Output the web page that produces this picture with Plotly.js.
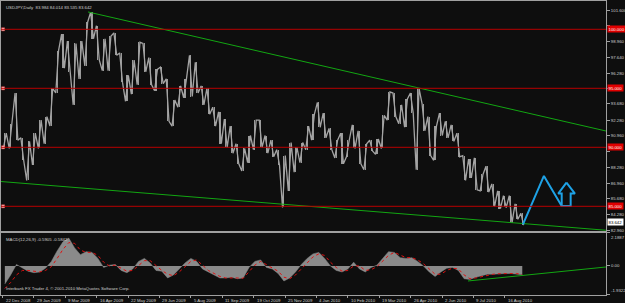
<!DOCTYPE html>
<html><head><meta charset="utf-8">
<script src="https://cdn.plot.ly/plotly-3.0.1.min.js"></script>
<style>html,body{margin:0;padding:0;background:#0e0e0e;} #chart{width:625px;height:303px;}</style>
</head><body><div id="chart"></div>
<script>
// ---- data (weekly chunks of 5 daily bars, starting 22 Dec 2008) ----
const weekHigh = [91.2,92.0,94.6,90.8,90.5,91.2,92.3,92.6,95.0,98.2,
  99.6,99.0,98.8,99.0,100.6,101.45,100.3,99.2,99.4,99.7,
  98.0,96.1,97.4,98.9,98.8,97.6,96.6,96.8,95.8,94.0,
  95.2,95.8,97.8,97.2,95.2,95.0,93.4,93.0,92.4,91.8,
  90.3,89.9,91.0,92.3,92.3,91.0,90.6,89.8,89.3,90.4,
  90.0,90.4,91.8,92.8,93.8,92.9,91.6,90.6,91.2,90.6,
  91.9,91.4,90.3,90.6,90.7,92.7,94.7,94.6,93.6,94.1,
  94.6,95.0,93.7,92.6,91.8,92.9,92.2,91.9,91.2,89.3,
  89.0,89.1,87.7,88.4,86.9,86.3,85.9,85.9,85.2,84.4];
const weekLow = [89.9,89.9,90.6,88.9,87.2,88.5,89.9,90.3,91.8,94.6,
  96.7,96.4,93.6,95.8,96.9,99.2,97.4,96.5,96.5,97.8,
  95.5,93.9,94.5,95.3,96.4,95.3,94.8,95.4,92.2,91.8,
  93.4,94.2,94.3,94.6,93.6,92.8,91.8,90.3,90.0,89.5,
  88.6,88.0,88.7,89.8,90.0,89.5,89.2,88.5,84.9,86.3,
  87.9,88.7,89.8,90.6,91.7,90.8,89.8,89.1,88.6,89.2,
  89.9,88.6,88.1,89.7,89.4,89.9,92.3,92.6,92.0,91.7,
  92.9,88.1,91.4,89.3,88.9,91.0,90.8,90.5,89.2,87.2,
  87.4,86.4,86.3,86.2,85.0,84.8,84.9,83.6,83.9,83.4];
const macdHist = [-1.2,-0.6,0.1,-0.1,-0.35,-0.45,-0.4,-0.15,0.3,1.0,
  1.6,1.85,1.2,0.75,0.95,0.9,0.5,-0.1,0.05,0.1,
  -0.3,-0.45,-0.2,0.3,0.5,0.2,-0.3,-0.35,-0.8,-0.6,
  -0.2,0.2,0.5,0.3,-0.2,-0.4,-0.6,-0.8,-0.8,-0.75,
  -0.85,-0.8,-0.1,0.3,0.4,-0.1,-0.2,-0.5,-1.0,-0.8,
  -0.4,0.1,0.5,0.8,0.9,0.5,0.0,-0.3,-0.4,-0.2,
  0.25,-0.2,-0.4,-0.1,0.05,0.5,0.95,0.9,0.55,0.5,
  0.55,0.3,0.0,-0.4,-0.7,-0.4,-0.15,-0.1,-0.3,-0.85,
  -0.9,-0.75,-0.65,-0.55,-0.55,-0.5,-0.5,-0.5,-0.55,-0.59];
const macdSignal = [-1.5,-1.1,-0.6,-0.3,-0.3,-0.35,-0.4,-0.3,-0.05,0.5,
  1.1,1.55,1.5,1.05,0.9,0.9,0.7,0.25,0.0,0.05,
  -0.15,-0.35,-0.3,0.05,0.35,0.35,0.0,-0.3,-0.55,-0.65,
  -0.4,-0.05,0.3,0.4,0.05,-0.3,-0.5,-0.7,-0.8,-0.78,
  -0.8,-0.82,-0.4,0.05,0.3,0.1,-0.15,-0.35,-0.75,-0.85,
  -0.6,-0.2,0.25,0.6,0.8,0.7,0.25,-0.1,-0.35,-0.3,
  0.0,0.0,-0.3,-0.25,-0.05,0.3,0.7,0.9,0.7,0.55,
  0.55,0.4,0.15,-0.2,-0.55,-0.55,-0.3,-0.15,-0.2,-0.6,
  -0.85,-0.8,-0.7,-0.6,-0.55,-0.52,-0.5,-0.5,-0.5,-0.58];
const dateLabels = ["22 Dec 2008","29 Jan 2009","9 Mar 2009","16 Apr 2009","22 May 2009","29 Jun 2009","5 Aug 2009","11 Sep 2009","19 Oct 2009","25 Nov 2009","4 Jan 2010","10 Feb 2010","19 Mar 2010","26 Apr 2010","2 Jun 2010","9 Jul 2010","16 Aug 2010"];
const dateLabelBars = [0,27,54,81,108,135,162,189,216,243,270,297,324,351,378,405,432];
const priceTicks = [101.6,100.28,98.96,97.64,96.28,94.96,93.68,92.28,90.96,89.68,88.28,86.96,85.68,84.28,82.96];
const levels = [100,95,90,85];
const lastPrice = 83.642;
const titleText = "USDJPY,Daily  83.984 84.014 83.535 83.642";
const macdText = "MACD(12,26,9) -0.5905 -0.5842";
const macdTicks = [2.1887, 0, -1.9322];
const macdTickText = ["2.1887","0.00","-1.9322"];
// drawn objects (bar index, price)
const upperTrendBars = [73.5, 519], upperTrendPrices = [101.47, 91.38];
const lowerTrendBars = [-1.3, 519], lowerTrendPrices = [87.10, 82.97];
const macdTrendBars = [400.3, 519], macdTrendValues = [-1.0, -0.07];
const zigzagBars = [447.6, 465.6, 480.9], zigzagPrices = [83.47, 87.57, 85.03];
const arrowBars = [485.0, 492.3, 488.6, 488.6, 480.9, 480.9, 477.9, 485.0];
const arrowPrices = [87.00, 86.08, 86.08, 85.03, 85.03, 86.08, 86.08, 87.00];
const BARS_PER_WEEK = 5;

// ---- build traces ----
const px = [], py = [];
for (let k = 0; k < weekHigh.length; k++) {
  const mid = (weekHigh[k] + weekLow[k]) / 2;
  const nextMid = k + 1 < weekHigh.length ? (weekHigh[k+1] + weekLow[k+1]) / 2 : mid;
  const up = nextMid > mid;
  px.push(k*BARS_PER_WEEK + 0.8, k*BARS_PER_WEEK + 3.2);
  py.push(up ? weekLow[k] : weekHigh[k], up ? weekHigh[k] : weekLow[k]);
}
const wx = weekHigh.map((_, k) => k*BARS_PER_WEEK + 2);
const grey = '#a4a4a4';
const font = 'Liberation Sans, Arial, sans-serif';
const txt = '#cfcfcf';
const fs = 4.3;
// hide axis texts that sit under the red level boxes (as in the reference)
const hiddenTicks = [100.28, 94.96, 89.68];

const traces = [
  {type:'bar', x: wx, base: weekLow, y: weekHigh.map((h, k) => h - weekLow[k]), width: 1.0, marker:{color:'#9a9a9a', line:{width:0}}, xaxis:'x', yaxis:'y'},
  {type:'scatter', mode:'lines', x: px, y: py, line:{color:grey, width:1.3}, xaxis:'x', yaxis:'y', hoverinfo:'skip'},
  {type:'scatter', mode:'lines', x: upperTrendBars, y: upperTrendPrices, line:{color:'#12a612', width:1}, xaxis:'x', yaxis:'y'},
  {type:'scatter', mode:'lines', x: lowerTrendBars, y: lowerTrendPrices, line:{color:'#12a612', width:1}, xaxis:'x', yaxis:'y'},
  {type:'scatter', mode:'markers', x: levels.map(() => 0.5), y: levels, marker:{symbol:'square', size:3, color:'#ffd8d8', line:{color:'#ff4040', width:0.5}}, xaxis:'x', yaxis:'y'},
  {type:'scatter', mode:'lines', x: zigzagBars, y: zigzagPrices, line:{color:'#1ea2e6', width:2}, xaxis:'x', yaxis:'y'},
  {type:'scatter', mode:'lines', x: arrowBars, y: arrowPrices, line:{color:'#1ea2e6', width:2}, xaxis:'x', yaxis:'y'},
  {type:'scatter', mode:'lines', x: wx, y: macdHist, fill:'tozeroy', fillcolor:'#8a8a8a', line:{color:'#8a8a8a', width:0.5}, xaxis:'x2', yaxis:'y2'},
  {type:'scatter', mode:'lines', x: wx, y: macdSignal, line:{color:'#e01010', width:1, dash:'dot'}, xaxis:'x2', yaxis:'y2'},
  {type:'scatter', mode:'lines', x: macdTrendBars, y: macdTrendValues, line:{color:'#12a612', width:1}, xaxis:'x2', yaxis:'y2'}
];

const shapes = levels.map(l => ({type:'line', xref:'paper', x0:0, x1:1, yref:'y', y0:l, y1:l, line:{color:'#b80000', width:1}}));

const annotations = [
  {xref:'paper', yref:'paper', x:0, y:1, xanchor:'left', yanchor:'top', xshift:3, yshift:-2, text:titleText, showarrow:false, font:{family:font, size:fs, color:txt}},
  {xref:'paper', yref:'paper', x:0, y:0.2109, xanchor:'left', yanchor:'top', xshift:3, yshift:-2, text:macdText, showarrow:false, font:{family:font, size:fs, color:txt}},
  {xref:'paper', yref:'paper', x:0, y:0, xanchor:'left', yanchor:'bottom', xshift:3, yshift:2, text:'Interbank FX Trader 4, © 2001-2010 MetaQuotes Software Corp.', showarrow:false, font:{family:font, size:fs, color:txt}}
];
dateLabels.forEach((t, i) => annotations.push({xref:'x2', yref:'paper', x:dateLabelBars[i], y:0, xanchor:'left', yanchor:'top', xshift:1, yshift:-1, text:t, showarrow:false, font:{family:font, size:fs, color:txt}}));
levels.forEach(l => annotations.push({xref:'paper', yref:'y', x:1, y:l, xanchor:'left', yanchor:'middle', xshift:1, text:l.toFixed(3), showarrow:false, bgcolor:'#e00000', borderpad:0.5, font:{family:font, size:fs, color:'#ffffff'}}));
annotations.push({xref:'paper', yref:'y', x:1, y:lastPrice, xanchor:'left', yanchor:'middle', xshift:1, text:lastPrice.toFixed(3), showarrow:false, bgcolor:'#ffffff', borderpad:0.5, font:{family:font, size:fs, color:'#000000'}});
annotations.push({xref:'paper', yref:'y2', x:1, y:macdTicks[0], xanchor:'left', yanchor:'top', xshift:3, text:macdTickText[0], showarrow:false, font:{family:font, size:fs, color:txt}});
annotations.push({xref:'paper', yref:'y2', x:1, y:macdTicks[1], xanchor:'left', yanchor:'middle', xshift:3, text:macdTickText[1], showarrow:false, font:{family:font, size:fs, color:txt}});
annotations.push({xref:'paper', yref:'y2', x:1, y:macdTicks[2], xanchor:'left', yanchor:'bottom', xshift:3, text:macdTickText[2], showarrow:false, font:{family:font, size:fs, color:txt}});

const axLine = '#a0a0a0';
const layout = {
  width:625, height:303,
  margin:{l:1, r:19, t:1, b:8},
  paper_bgcolor:'#0e0e0e', plot_bgcolor:'#0e0e0e',
  showlegend:false, bargap:0,
  xaxis:{domain:[0,1], range:[-1.3,519], anchor:'y', showticklabels:false, showgrid:false, zeroline:false, showline:true, mirror:true, linecolor:axLine, linewidth:1, ticks:''},
  yaxis:{domain:[0.2177,1], range:[82.907,102.398], side:'right', tickvals:priceTicks, ticktext:priceTicks.map(v => hiddenTicks.includes(v) ? '' : v.toFixed(3)), ticks:'outside', ticklen:3, tickcolor:axLine, ticklabelstandoff:0, showgrid:false, zeroline:false, showline:true, mirror:true, linecolor:axLine, linewidth:1, tickfont:{family:font, size:fs, color:txt}},
  xaxis2:{domain:[0,1], anchor:'y2', matches:'x', tickvals:dateLabelBars, ticks:'outside', ticklen:2, tickcolor:axLine, showticklabels:false, showgrid:false, zeroline:false, showline:true, mirror:true, linecolor:axLine, linewidth:1},
  yaxis2:{domain:[0,0.2109], range:[-1.9322,2.1887], side:'right', tickvals:macdTicks, ticks:'outside', ticklen:3, tickcolor:axLine, showticklabels:false, showgrid:false, zeroline:false, showline:true, mirror:true, linecolor:axLine, linewidth:1},
  shapes: shapes,
  annotations: annotations
};
Plotly.newPlot('chart', traces, layout, {staticPlot:true, displayModeBar:false});
</script></body></html>
